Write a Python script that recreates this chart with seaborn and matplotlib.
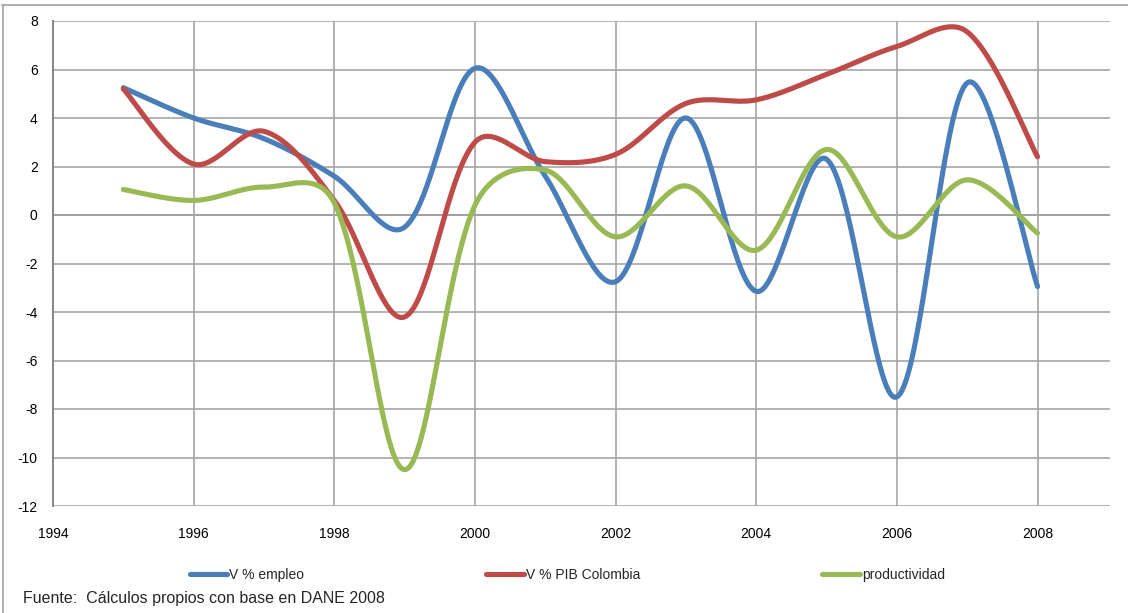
import numpy as np
import pandas as pd
import matplotlib
matplotlib.use("Agg")
import matplotlib.pyplot as plt
import seaborn as sns
from matplotlib.lines import Line2D

years = [1995, 1996, 1997, 1998, 1999, 2000, 2001, 2002, 2003, 2004, 2005, 2006, 2007, 2008]
empleo = [5.25, 4.0, 3.15, 1.6, -0.5, 6.05, 1.6, -2.75, 4.0, -3.15, 2.3, -7.5, 5.45, -2.95]
pib = [5.2, 2.1, 3.45, 0.6, -4.2, 3.0, 2.2, 2.5, 4.6, 4.75, 5.8, 6.95, 7.55, 2.4]
productividad = [1.05, 0.6, 1.15, 0.5, -10.5, 0.4, 1.85, -0.9, 1.2, -1.45, 2.7, -0.9, 1.45, -0.75]

series_names = ["V % empleo", "V % PIB Colombia", "productividad"]
colors = ["#4A7EBB", "#BE4B48", "#98B954"]

# pixels per unit on screen, used so the smoothing behaves like excel's
SX, SY = 70.4, 24.25


def smooth(x, y, n=40):  # bezier "smoothed line", tangents partly weighted by segment length
    P = np.column_stack([np.asarray(x, float) * SX, np.asarray(y, float) * SY])
    m = len(P)
    d = np.linalg.norm(np.diff(P, axis=0), axis=1)
    out = []
    t = np.linspace(0, 1, n, endpoint=False)[:, None]
    for i in range(m - 1):
        p1, p2 = P[i], P[i + 1]
        p0 = P[i - 1] if i > 0 else P[i]
        p3 = P[i + 2] if i + 2 < m else P[i + 1]
        d01 = d[i - 1] if i > 0 else d[i]
        d12 = d[i]
        d23 = d[i + 1] if i + 1 < m - 1 else d[i]
        f1 = 0.5 * (0.5 + d12 / (d01 + d12))
        f2 = 0.5 * (0.5 + d12 / (d12 + d23))
        c1 = p1 + (p2 - p0) * f1 / 3
        c2 = p2 - (p3 - p1) * f2 / 3
        b = ((1 - t) ** 3) * p1 + 3 * ((1 - t) ** 2) * t * c1 + 3 * (1 - t) * t**2 * c2 + t**3 * p2
        out.append(b)
    out.append(P[-1][None, :])
    out = np.vstack(out)
    return out[:, 0] / SX, out[:, 1] / SY


frames = []
for name, vals in zip(series_names, [empleo, pib, productividad]):
    sx, sy = smooth(years, vals)
    frames.append(pd.DataFrame({"year": sx, "value": sy, "serie": name}))
df = pd.concat(frames, ignore_index=True)

sns.set_style("white")
plt.rcParams["font.family"] = ["Liberation Sans", "DejaVu Sans"]
plt.rcParams["axes.unicode_minus"] = False

fig = plt.figure(figsize=(11.28, 6.13), dpi=100)
ax = fig.add_axes([53 / 1128, 1 - 506 / 613, (1110 - 53) / 1128, (506 - 21) / 613])

sns.lineplot(data=df, x="year", y="value", hue="serie", palette=colors, units="serie",
             estimator=None, sort=False, linewidth=3.7, legend=False, ax=ax,
             solid_capstyle="round")

ax.set_xlim(1994, 2009.03)
ax.set_ylim(-12, 8)
ax.set_xticks(range(1994, 2009, 2))
ax.set_yticks(range(-12, 9, 2))
ax.grid(True, color="#A6A6A6", linewidth=1.2)
ax.axhline(0, color="#868686", linewidth=1.4, zorder=0.5)
for s in ["top", "right", "bottom"]:
    ax.spines[s].set_visible(False)
ax.spines["left"].set_color("#868686")
ax.spines["left"].set_linewidth(1.4)
ax.tick_params(axis="both", length=0, labelsize=10, colors="black")
ax.tick_params(axis="y", pad=11)
ax.tick_params(axis="x", pad=15)
ax.set_xlabel("")
ax.set_ylabel("")

handles = [Line2D([0], [0], color=c, linewidth=3.7, solid_capstyle="round") for c in colors]
fig.legend(handles, series_names, loc="center", bbox_to_anchor=(0.503, 1 - 575 / 613),
           ncol=3, frameon=False, fontsize=10, handlelength=2.7, handletextpad=0.15,
           columnspacing=13.1, borderpad=0, borderaxespad=0)

fig.text(23 / 1128, 1 - 598 / 613, "Fuente:  Cálculos propios con base en DANE 2008",
         fontsize=11.5, va="center", ha="left")

# chart area frame (top and left edges visible)
fig.add_artist(Line2D([2 / 1128, 1], [1 - 4.5 / 613, 1 - 4.5 / 613], color="#A0A0A0", linewidth=1.2))
fig.add_artist(Line2D([2.5 / 1128, 2.5 / 1128], [0, 1 - 4.5 / 613], color="#A0A0A0", linewidth=1.2))

fig.savefig("out.png", dpi=100)
